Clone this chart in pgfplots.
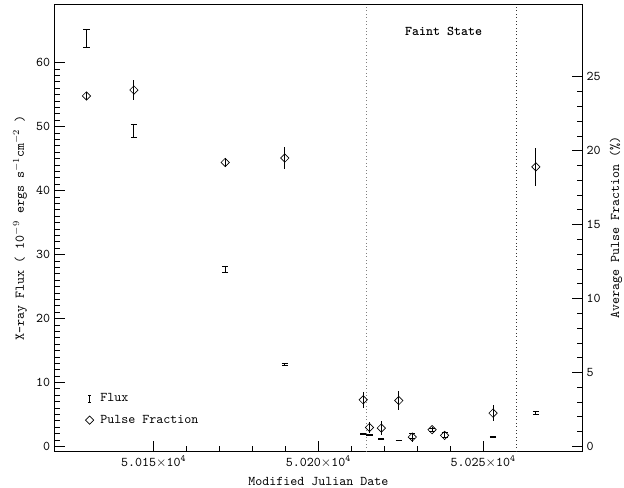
\documentclass[border=0pt]{standalone}
\usepackage{pgfplots}
\pgfplotsset{compat=1.18}
\renewcommand{\familydefault}{\ttdefault}

% x = MJD, flux (1e-9 erg/s/cm2) with error, pulse fraction (%) with error
\pgfplotstableread{
mjd      flux   ferr  pf    perr
50129.6  63.75  1.45  23.7  0.25
50144.0  49.3   1.05  24.1  0.65
50171.7  27.7   0.45  19.2  0.30
50189.8  12.8   0.20  19.5  0.75
50213.6  1.9    0.08  3.15  0.56
50215.5  1.8    0.08  1.28  0.40
50219.1  1.2    0.05  1.24  0.45
50224.4  0.95   0.05  3.10  0.62
50228.5  1.6    0.40  0.63  0.30
50234.5  2.6    0.30  1.13  0.15
50238.3  1.8    0.35  0.74  0.20
50253.0  1.5    0.12  2.25  0.56
50266.0  5.2    0.25  18.9  1.27
}\obsdata

\pgfplotsset{
  common/.style={
    width=395.25pt, height=335.25pt, scale only axis,
    xmin=50120, xmax=50280,
    tick align=inside,
    major tick length=7.5pt, minor tick length=3.75pt,
    tick style={black, line width=0.5pt},
    axis line style={line width=0.6pt},
    tick label style={font=\normalsize},
    /pgf/number format/assume math mode=true,
  },
}

\begin{document}
\begin{tikzpicture}
\begin{axis}[common,
    ymin=-0.78, ymax=69.1,
    scaled x ticks=false,
    xtick={50150,50200,50250},
    xticklabels={5.015$\times$10\textsuperscript{4},5.020$\times$10\textsuperscript{4},5.025$\times$10\textsuperscript{4}},
    minor x tick num=4,
    ytick={0,10,...,60}, minor y tick num=9,
    xtick pos=bottom, ytick pos=left,
    xlabel={Modified Julian Date},
    ylabel={X-ray Flux ( 10$^{-9}$ ergs s$^{-1}$cm$^{-2}$ )},
    legend style={at={(0.05,0.046)}, anchor=south west, draw=none, fill=none,
      font=\normalsize, row sep=4.5pt,
      /tikz/every odd column/.append style={column sep=3pt}},
    legend cell align=left,
]
\coordinate (SW) at (rel axis cs:0,0);
\coordinate (NE) at (rel axis cs:1,1);
\addplot[draw=none, mark=none,
    legend image code/.code={
      \draw[black, line width=0.5pt] (0.15cm,-0.09cm)--(0.15cm,0.09cm)
        (0.11cm,-0.09cm)--(0.19cm,-0.09cm) (0.11cm,0.09cm)--(0.19cm,0.09cm);},
    error bars/.cd, y dir=both, y explicit, error mark=-,
    error mark options={draw=black, rotate=90, mark size=2.3pt, line width=0.5pt},
    error bar style={draw=black, line width=0.6pt}]
  table[x=mjd, y=flux, y error=ferr] {\obsdata};
\addlegendentry{Flux}
\addlegendimage{legend image code/.code={
    \draw[black, line width=0.5pt, mark=square, mark size=2.2pt, mark options={rotate=45}]
      plot coordinates {(0.15cm,0cm)};}}
\addlegendentry{Pulse Fraction}
\addplot[gray, dotted, line width=0.6pt, forget plot] coordinates {(50214.6,-0.78) (50214.6,69.1)};
\addplot[black!80, dotted, line width=0.6pt, forget plot] coordinates {(50260,-0.78) (50260,69.1)};
\node[font=\bfseries] at (axis cs:50238,64.8) {Faint State};
\end{axis}
\begin{axis}[common,
    ymin=-0.34, ymax=29.9,
    hide x axis,
    ytick={0,5,...,25}, minor y tick num=4,
    ytick pos=right, yticklabel pos=right,
    ylabel={Average Pulse Fraction (\%)},
]
\addplot[only marks, mark=square, mark size=2.2pt, mark options={rotate=45, black, line width=0.5pt},
    error bars/.cd, y dir=both, y explicit, error mark=none,
    error bar style={black, line width=0.6pt}]
  table[x=mjd, y=pf, y error=perr] {\obsdata};
\end{axis}
\pgfresetboundingbox
\path[use as bounding box] ([xshift=-41.1pt,yshift=-27.2pt]SW) rectangle ([xshift=31.5pt,yshift=3.2pt]NE);
\end{tikzpicture}
\end{document}
